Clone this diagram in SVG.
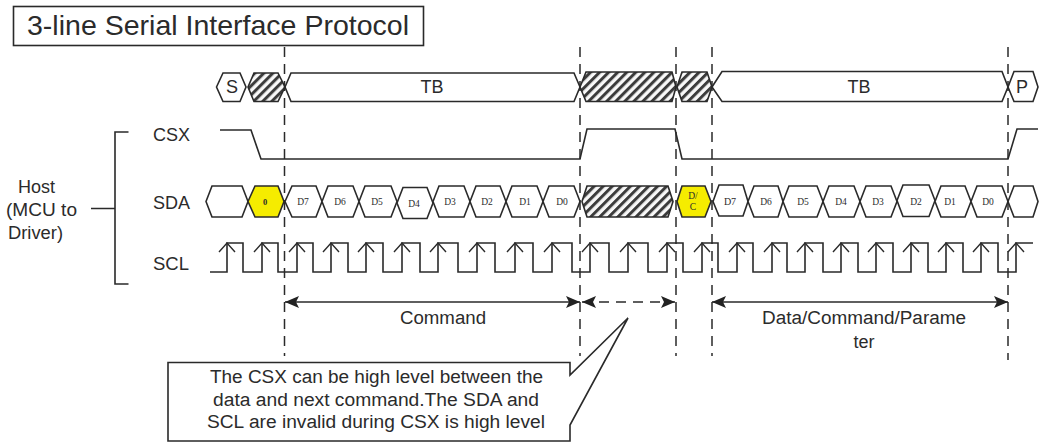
<svg xmlns="http://www.w3.org/2000/svg" width="1044" height="443" viewBox="0 0 1044 443">
<style>
.l{fill:none;stroke:#2a2a2a;stroke-width:1.6}
.h{fill:#fff;stroke:#2a2a2a;stroke-width:1.6}
.x{fill:url(#hatch);stroke:#2a2a2a;stroke-width:1.6}
.y{fill:#f5ec00;stroke:#2a2a2a;stroke-width:1.6}
.d{fill:none;stroke:#2a2a2a;stroke-width:1.5;stroke-dasharray:10 7}
text{font-family:"Liberation Sans",Arial,sans-serif;fill:#2b2b2b;font-size:18px}
.m{text-anchor:middle}
.s{font-family:"Liberation Serif","Times New Roman",serif;font-size:9.5px;text-anchor:middle}
</style>
<defs>
<pattern id="hatch" width="6.4" height="6.4" patternUnits="userSpaceOnUse" patternTransform="rotate(45)">
<rect width="6.4" height="6.4" fill="#f8f8f8"/><rect width="3" height="6.4" fill="#3c3c3c"/>
</pattern>
<marker id="a" viewBox="0 0 14 12" refX="14" refY="6" markerWidth="14" markerHeight="13" orient="auto-start-reverse" markerUnits="userSpaceOnUse"><path d="M0 0L14 6L0 12L3 6Z" fill="#222"/></marker>
<path id="up" d="M-8 9L0 0L8 9" fill="none" stroke="#2a2a2a" stroke-width="1.4"/>
</defs>
<rect width="1044" height="443" fill="#fff"/>
<g id="title"><rect x="13.5" y="6.5" width="410" height="39" class="h"/><text x="27" y="35" style="font-size:28px" textLength="382" lengthAdjust="spacingAndGlyphs">3-line Serial Interface Protocol</text></g>
<g id="host"><text x="18" y="193" textLength="37" lengthAdjust="spacingAndGlyphs">Host</text><text x="6" y="216" textLength="71" lengthAdjust="spacingAndGlyphs">(MCU to</text><text x="8" y="239" textLength="55" lengthAdjust="spacingAndGlyphs">Driver)</text></g>
<g id="labels"><text x="153" y="141" textLength="37" lengthAdjust="spacingAndGlyphs">CSX</text><text x="153" y="209" textLength="37" lengthAdjust="spacingAndGlyphs">SDA</text><text x="153" y="270" textLength="36" lengthAdjust="spacingAndGlyphs">SCL</text></g>
<g id="top-row">
<polygon class="h" points="216.5,87 223,73 240,73 246,87 240,101.5 223,101.5"/>
<text class="m" x="232" y="92.500">S</text>
<polygon class="x" points="248,87 254,73 278,73 285,87 278,101.5 254,101.5"/>
<polygon class="h" points="285,87 291,73 574,73 580,87 574,101.5 291,101.5"/>
<text class="m" x="432" y="92.500">TB</text>
<polygon class="x" points="580,87 586,72 672,72 676,87 672,101.5 586,101.5"/>
<polygon class="x" points="677,87 682,72 707,72 712,87 707,101.5 682,101.5"/>
<polygon class="h" points="712,87 722,71.5 1002,71.5 1008,87 1002,101.5 722,101.5"/>
<text class="m" x="859" y="92.500">TB</text>
<polygon class="h" points="1008,87 1014,71.5 1033,71.5 1038,87 1033,101.5 1014,101.5"/>
<text class="m" x="1022" y="92.500">P</text>
</g>
<g id="csx"><path class="l" d="M220 130H251L261 159H580L587 129H675L682 159H1008L1017 129H1038"/></g>
<g id="sda">
<polygon class="h" points="206,201.5 212,186 242,186 248,201.5 242,217 212,217"/>
<polygon class="y" points="248,201.5 255,186 278,186 284,201.5 278,217 255,217"/>
<text class="s" x="265" y="205" style="font-size:8.5px;font-weight:bold">0</text>
<polygon class="h" points="285,201.5 292,186 316,186 322,201.5 316,217 292,217"/>
<text class="s" x="303" y="205">D7</text>
<polygon class="h" points="322,201.5 328,186 353,186 359,201.5 353,217 328,217"/>
<text class="s" x="340" y="205">D6</text>
<polygon class="h" points="359,201.5 365,186 391,186 397,201.5 391,217 365,217"/>
<text class="s" x="377" y="205">D5</text>
<polygon class="h" points="397,203 403,187.5 427,187.5 433,203 427,218.5 403,218.5"/>
<text class="s" x="414" y="206.5">D4</text>
<polygon class="h" points="433,201.5 439,186 464,186 470,201.5 464,217 439,217"/>
<text class="s" x="450" y="205">D3</text>
<polygon class="h" points="470,201.5 476,186 500,186 506,201.5 500,217 476,217"/>
<text class="s" x="487" y="205">D2</text>
<polygon class="h" points="506,201.5 512,186 537,186 543,201.5 537,217 512,217"/>
<text class="s" x="525" y="205">D1</text>
<polygon class="h" points="543,201.5 549,186 574,186 580,201.5 574,217 549,217"/>
<text class="s" x="562" y="205">D0</text>
<polygon class="x" points="582,201.5 587,186 668,186 673,201.5 668,217 587,217"/>
<polygon class="y" points="677,201.5 682,186 705,186 711,201.5 705,217 682,217"/>
<text class="s" x="693" y="199">D/</text><text class="s" x="693" y="210">C</text>
<polygon class="h" points="713,201.5 719,185 743,185 748,201.5 743,216 719,216"/>
<text class="s" x="730" y="205" style="font-size:10px">D7</text>
<polygon class="h" points="748,201.5 754,186 778,186 783,201.5 778,217 754,217"/>
<text class="s" x="766" y="205">D6</text>
<polygon class="h" points="783,201.5 789,186 817,186 823,201.5 817,217 789,217"/>
<text class="s" x="803" y="205">D5</text>
<polygon class="h" points="823,201.5 829,186 854,186 860,201.5 854,217 829,217"/>
<text class="s" x="841" y="205">D4</text>
<polygon class="h" points="860,201.5 866,186 891,186 897,201.5 891,217 866,217"/>
<text class="s" x="878" y="205">D3</text>
<polygon class="h" points="897,200.5 903,185 929,185 935,200.5 929,216.5 903,216.5"/>
<text class="s" x="916" y="205">D2</text>
<polygon class="h" points="935,201.5 941,186 965,186 971,201.5 965,217 941,217"/>
<text class="s" x="950" y="205">D1</text>
<polygon class="h" points="971,201.5 977,186 1002,186 1008,201.5 1002,217 977,217"/>
<text class="s" x="988" y="205">D0</text>
<polygon class="h" points="1008,201.5 1014,186 1033,186 1038,201.5 1033,217 1014,217"/>
</g>
<g id="scl">
<path class="l" d="M210 272H227V243H243V272H262V243H278V272H297V243H313V272H331V243H348V272H366V243H383V272H402V243H420V272H438V243H458V272H477V243H495V272H515V243H533V272H552V243H572V272H590V243H609V272H628V243H648V272H667V243H683V272H702V243H718V272H737V243H753V272H772V243H787V272H805V243H823V272H841V243H858V272H876V243H893V272H911V243H928V272H946V243H963V272H981V243H998V272H1016V243H1033"/>
<use href="#up" x="227" y="243"/><use href="#up" x="262" y="243"/><use href="#up" x="297" y="243"/><use href="#up" x="331" y="243"/><use href="#up" x="366" y="243"/><use href="#up" x="402" y="243"/><use href="#up" x="438" y="243"/><use href="#up" x="477" y="243"/><use href="#up" x="515" y="243"/><use href="#up" x="552" y="243"/><use href="#up" x="590" y="243"/><use href="#up" x="628" y="243"/><use href="#up" x="667" y="243"/><use href="#up" x="702" y="243"/><use href="#up" x="737" y="243"/><use href="#up" x="772" y="243"/><use href="#up" x="805" y="243"/><use href="#up" x="841" y="243"/><use href="#up" x="876" y="243"/><use href="#up" x="911" y="243"/><use href="#up" x="946" y="243"/><use href="#up" x="981" y="243"/><use href="#up" x="1016" y="243"/>
</g>
<g id="connectors">
<path class="l" d="M91 208.5H115M128.5 132H115V284H128.5"/>
<path class="d" d="M284.5 47V356M580 47V356M676 47V356M712 47V356M1008 47V360"/>
<path class="l" d="M285 302H580" marker-start="url(#a)" marker-end="url(#a)"/>
<path class="d" d="M582 302H675" marker-start="url(#a)" marker-end="url(#a)"/>
<path class="l" d="M712 302H1008" marker-start="url(#a)" marker-end="url(#a)"/>
</g>
<g id="labels-bottom">
<text x="400" y="324" textLength="86" lengthAdjust="spacingAndGlyphs">Command</text>
<text x="762" y="324" textLength="204" lengthAdjust="spacingAndGlyphs">Data/Command/Parame</text>
<text class="m" x="864" y="348">ter</text>
</g>
<g id="callout">
<path class="h" d="M168 362.500H570V375L628 318L570 425V441H168Z"/>
<text x="210" y="383" textLength="333" lengthAdjust="spacingAndGlyphs">The CSX can be high level between the</text>
<text x="213" y="406" textLength="326" lengthAdjust="spacingAndGlyphs">data and next command.The SDA and</text>
<text x="207" y="428" textLength="338" lengthAdjust="spacingAndGlyphs">SCL are invalid during CSX is high level</text>
</g>
</svg>
